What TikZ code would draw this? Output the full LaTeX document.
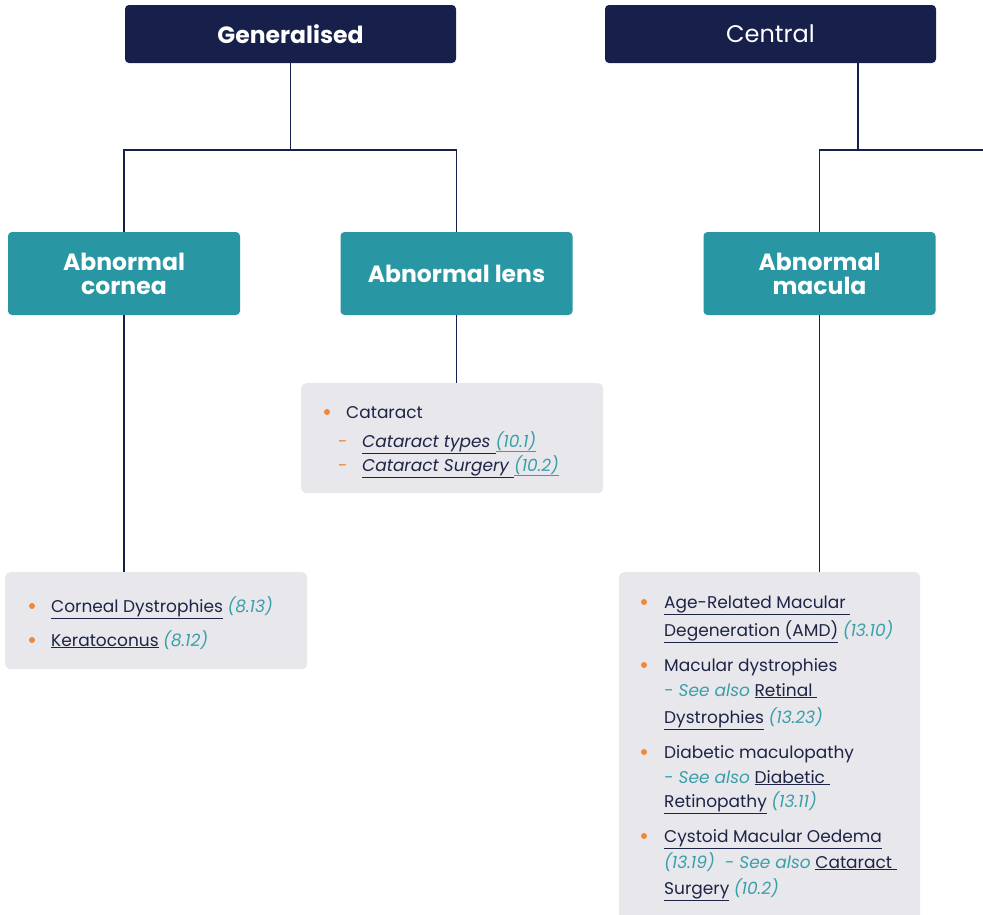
\documentclass[tikz,border=0pt]{standalone}
\usepackage{fontspec}
\setmainfont{Poppins}
\usetikzlibrary{positioning}

\definecolor{navy}{HTML}{16204A}
\definecolor{boxteal}{HTML}{2996A3}
\definecolor{reftxt}{HTML}{3A9FA8}
\definecolor{dotc}{HTML}{F0883A}
\definecolor{listbg}{HTML}{E7E7EC}
\definecolor{ink}{HTML}{1E2446}

\newcommand{\lnk}[1]{\underline{#1}}
\newcommand{\secno}[1]{{\color{reftxt}\itshape #1}}

\tikzset{
  headbox/.style={fill=navy, rounded corners=4pt, minimum width=331pt, minimum height=58pt,
    text=white, font=\fontsize{23.5}{25}\selectfont\bfseries},
  subbox/.style={fill=boxteal, rounded corners=4pt, minimum width=232pt, minimum height=83pt,
    text=white, align=center, font=\fontsize{23.5}{24}\selectfont\bfseries},
  listbox/.style={fill=listbg, rounded corners=5pt, anchor=north west, inner sep=0pt},
  item/.style={anchor=base west, inner sep=0pt, text=ink, font=\fontsize{17}{18}\selectfont},
  dot/.style={circle, fill=dotc, inner sep=0pt, minimum size=6pt},
  wire/.style={draw=navy, line width=1.4pt},
}

\begin{document}
\begin{tikzpicture}[x=1pt, y=-1pt]
\useasboundingbox[fill=white] (0,0) rectangle (983,914);

% top level
\node[headbox] (gen) at (290.5,34) {Generalised};
\node[headbox, font=\fontsize{24}{25}\selectfont] (cen) at (770.5,34) {Central};

% second level
\node[subbox] (cornea) at (124,273.5) {Abnormal\\cornea};
\node[subbox] (lens) at (456.5,273.5) {Abnormal lens};
\node[subbox] (macula) at (819.5,273.5) {Abnormal\\macula};

\coordinate (genjoin) at (290.5,150);
\coordinate (cenjoin) at (858,150);
\coordinate (cenright) at (983,150);

\draw[wire] (gen.south) -- (genjoin) -| (cornea.north);
\draw[wire] (genjoin) -| (lens.north);
\draw[wire] (cen.south -| cenjoin) -- (cenjoin);
\draw[wire] (macula.north) |- (cenright);

% list boxes
\node[listbox, minimum width=302pt, minimum height=110pt] (catlist) at (301,383) {};
\node[listbox, minimum width=302pt, minimum height=97pt] (corlist) at (5,572) {};
\node[listbox, minimum width=301pt, minimum height=360pt] (maclist) at (619,572) {};

\draw[wire] (cornea.south) -- (cornea.south |- corlist.north);
\draw[wire] (lens.south) -- (lens.south |- catlist.north);
\draw[wire] (macula.south) -- (macula.south |- maclist.north);

% lens list
\node[dot] (d1) at (327,412) {};
\node[item] (cat) at (346,418) {Cataract};
\node[item, text=dotc] (dash1) at (338,447) {-};
\node[item] (cattypes) at (362,447) {\itshape\lnk{Cataract types\ }\color{reftxt}\lnk{(10.1)}};
\node[item, text=dotc] (dash2) at (338,471) {-};
\node[item] (catsurg) at (362,471) {\itshape\lnk{Cataract Surgery\ }\color{reftxt}\lnk{(10.2)}};

% cornea list
\node[dot] (d2) at (32,606) {};
\node[item] (cordys) at (51,612) {\lnk{Corneal Dystrophies} \secno{(8.13)}};
\node[dot] (d3) at (32,640) {};
\node[item] (kerato) at (51,646) {\lnk{Keratoconus} \secno{(8.12)}};

% macula list
\node[dot] (d4) at (644,602) {};
\node[item] (amd1) at (664,608) {\lnk{Age-Related Macular\ }};
\node[item] (amd2) at (664,636) {\lnk{Degeneration (AMD)} \secno{(13.10)}};
\node[dot] (d5) at (644,665) {};
\node[item] (mdys1) at (664,671) {Macular dystrophies};
\node[item] (mdys2) at (664,696) {\secno{- See also} \lnk{Retinal\ }};
\node[item] (mdys3) at (664,723) {\lnk{Dystrophies} \secno{(13.23)}};
\node[dot] (d6) at (644,752) {};
\node[item] (dmac1) at (664,758) {Diabetic maculopathy};
\node[item] (dmac2) at (664,783) {\secno{- See also} \lnk{Diabetic\ }};
\node[item] (dmac3) at (664,807) {\lnk{Retinopathy} \secno{(13.11)}};
\node[dot] (d7) at (644,836) {};
\node[item] (cmo1) at (664,842) {\lnk{Cystoid Macular Oedema}};
\node[item] (cmo2) at (664,868) {\secno{(13.19)\ \ - See also} \lnk{Cataract\ }};
\node[item] (cmo3) at (664,894) {\lnk{Surgery} \secno{(10.2)}};
\end{tikzpicture}
\end{document}
